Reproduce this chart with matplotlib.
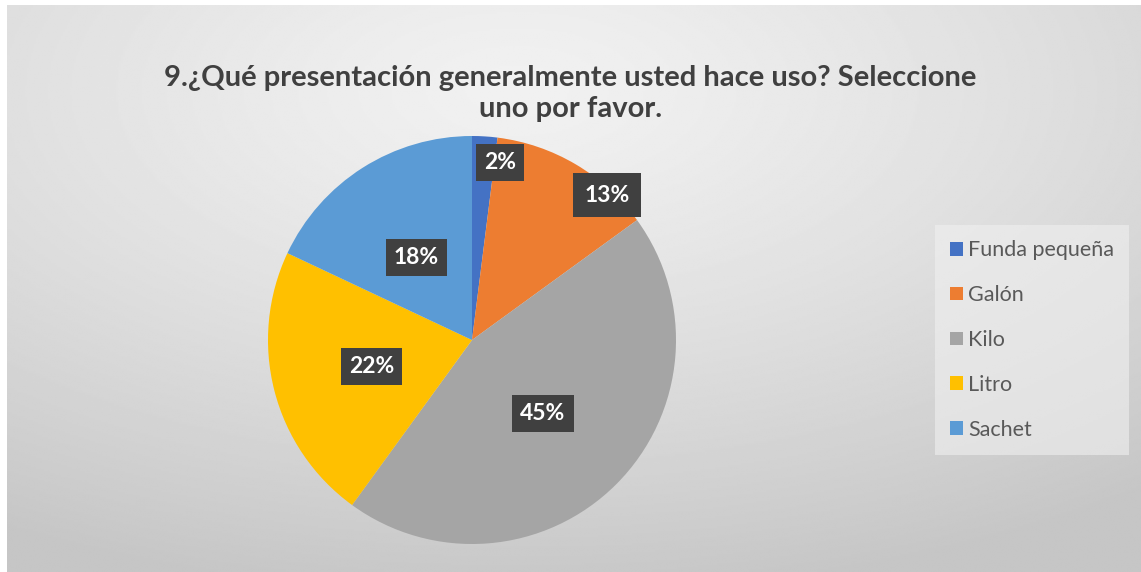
import numpy as np
import matplotlib.pyplot as plt

# datos de la pregunta 9
categorias = ['Funda pequeña', 'Galón', 'Kilo', 'Litro', 'Sachet']
porcentajes = [2, 13, 45, 22, 18]
colores = ['#4472C4', '#ED7D31', '#A5A5A5', '#FFC000', '#5B9BD5']
titulo = '9.¿Qué presentación generalmente usted hace uso? Seleccione\nuno por favor.'

plt.rcParams['font.family'] = ['Lato', 'DejaVu Sans']

W, H = 1141, 572
fig = plt.figure(figsize=(W / 100, H / 100), dpi=100)
fig.patch.set_facecolor('white')

# fondo con degradado radial
bg = fig.add_axes([7 / W, 0, 1 - 7 / W, 1 - 5 / H])
yy, xx = np.mgrid[0:1:300j, 0:1:600j]
d = np.sqrt(((xx - 0.45) / 0.9) ** 2 + ((yy - 0.15) / 0.9) ** 2)
grad = 0.945 - 0.17 * np.clip(d, 0, 1) ** 1.3
bg.imshow(grad, cmap='gray', vmin=0, vmax=1, aspect='auto',
          extent=[0, 1, 1, 0], interpolation='bilinear')
bg.set_axis_off()

# gráfico de pastel
cx, cy, r = 472, 340, 204
ax = fig.add_axes([(cx - r) / W, (H - cy - r) / H, 2 * r / W, 2 * r / H])
wedges, _ = ax.pie(porcentajes, colors=colores, startangle=90, counterclock=False,
                   radius=1, wedgeprops=dict(linewidth=0))
ax.set_xlim(-1, 1)
ax.set_ylim(-1, 1)
ax.set_aspect('auto')

# etiquetas de porcentaje
pos_rad = [0.88, 0.97, 0.50, 0.51, 0.49]
pos_ang = [81, 47, -46, 194.5, 124]
pads = [0.35, 0.5, 0.35, 0.35, 0.35]
for p, rr, a, pd in zip(porcentajes, pos_rad, pos_ang, pads):
    x = rr * np.cos(np.radians(a))
    y = rr * np.sin(np.radians(a))
    ax.text(x, y, f'{p}%', ha='center', va='center', color='white',
            fontsize=16.5, fontweight='bold',
            bbox=dict(boxstyle=f'square,pad={pd}', facecolor='#404040',
                      edgecolor='none'))

fig.text(0.50, 1 - 93.5 / H, titulo, ha='center', va='center', fontsize=21,
         fontweight='bold', color='#404040', linespacing=1.25)

leg = fig.legend(wedges, categorias, loc='center left',
                 bbox_to_anchor=(935 / W, 1 - 340 / H), frameon=True,
                 fontsize=15.5, labelcolor='#595959', handlelength=0.6,
                 handleheight=0.6, handletextpad=0.25, labelspacing=1.15,
                 borderpad=0.7, borderaxespad=0, fancybox=False)
leg.get_frame().set_facecolor('#f0f0f0')
leg.get_frame().set_alpha(0.6)
leg.get_frame().set_edgecolor('none')

fig.savefig('out.png', dpi=100)
